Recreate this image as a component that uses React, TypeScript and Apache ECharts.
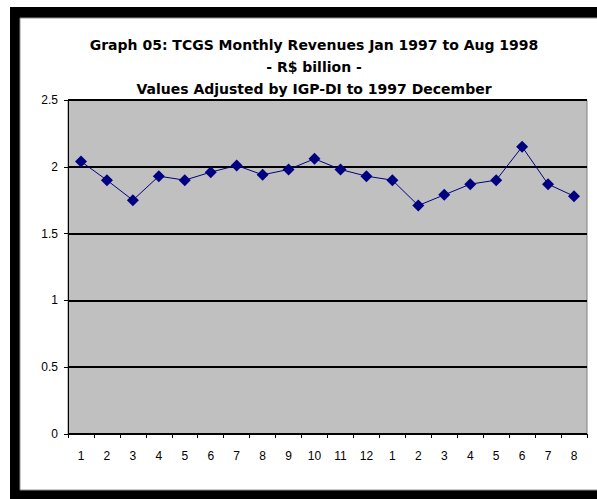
import React, { useEffect, useRef } from "react";
import * as echarts from "echarts";

const months = ["1","2","3","4","5","6","7","8","9","10","11","12","1","2","3","4","5","6","7","8"];
const revenues = [2.04,1.9,1.75,1.93,1.9,1.96,2.01,1.94,1.98,2.06,1.98,1.93,1.9,1.71,1.79,1.87,1.9,2.15,1.87,1.78];
const titleLines = [
  "Graph 05: TCGS Monthly Revenues Jan 1997 to Aug 1998",
  "- R$ billion -",
  "Values Adjusted by IGP-DI to 1997 December",
];
const yMin = 0;
const yMax = 2.5;
const yStep = 0.5;

export default function App() {
  const ref = useRef<HTMLDivElement>(null);
  useEffect(() => {
    if (!ref.current) return;
    const chart = echarts.init(ref.current, null, { renderer: "svg" });
    chart.setOption({
      animation: false,
      backgroundColor: "#ffffff",
      graphic: [
        { type: "rect", z: -10, shape: { x: 10, y: 7, width: 600, height: 500 }, style: { fill: "#000000" } },
        { type: "rect", z: -9, shape: { x: 20, y: 18, width: 590, height: 472 }, style: { fill: "#ffffff", stroke: "#909090", lineWidth: 1 } },
      ],
      title: {
        text: titleLines.join("\n"),
        left: 309,
        textAlign: "center",
        top: 29,
        z: 10,
        textStyle: {
          fontFamily: "DejaVu Sans",
          fontWeight: "bold",
          fontSize: 14,
          lineHeight: 22,
          color: "#000000",
        },
      },
      grid: {
        left: 68,
        top: 100,
        right: 10,
        bottom: 65,
        show: true,
        backgroundColor: "#c0c0c0",
        borderColor: "#808080",
        borderWidth: 1,
      },
      xAxis: {
        type: "category",
        data: months,
        boundaryGap: true,
        axisLine: { lineStyle: { color: "#000000", width: 1 } },
        axisTick: { show: true, alignWithLabel: false, length: 4, lineStyle: { color: "#000000" } },
        axisLabel: { color: "#000000", fontFamily: "Liberation Sans", fontSize: 12, margin: 16, interval: 0 },
        splitLine: { show: false },
      },
      yAxis: {
        type: "value",
        min: yMin,
        max: yMax,
        interval: yStep,
        axisLine: { show: true, lineStyle: { color: "#000000", width: 1 } },
        axisTick: { show: true, length: 4, lineStyle: { color: "#000000" } },
        axisLabel: { color: "#000000", fontFamily: "Liberation Sans", fontSize: 12, margin: 10 },
        splitLine: { show: true, lineStyle: { color: "#000000", width: 2 } },
      },
      series: [
        {
          type: "line",
          data: revenues,
          symbol: "diamond",
          symbolSize: 12,
          lineStyle: { color: "#000080", width: 1 },
          itemStyle: { color: "#000080" },
        },
      ],
    });
    return () => chart.dispose();
  }, []);
  return <div ref={ref} style={{ position: "fixed", left: 0, top: 0, width: 597, height: 499 }} />;
}
